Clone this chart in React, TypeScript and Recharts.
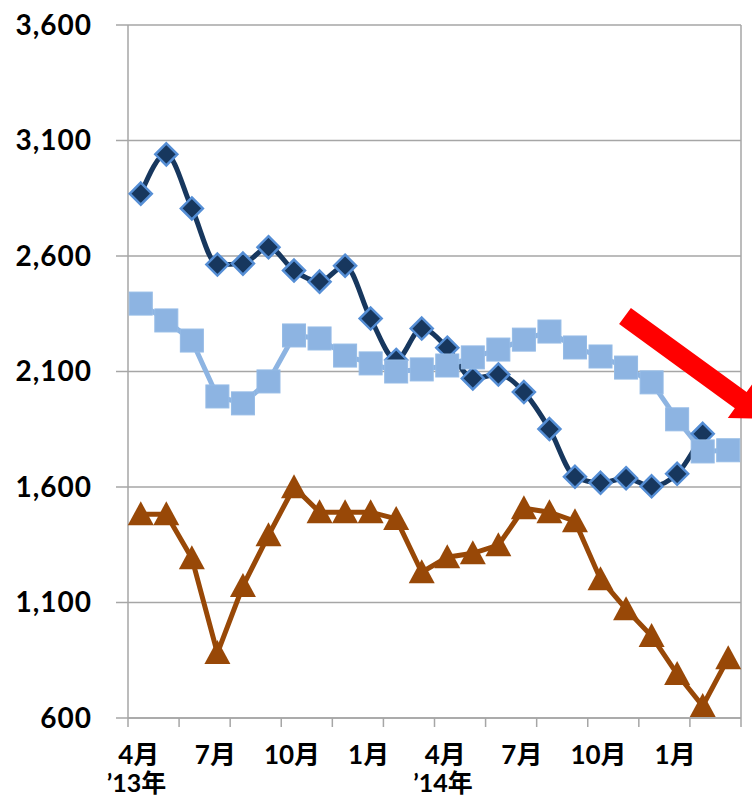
import React from "react";
import { CartesianGrid, Line, LineChart, XAxis, YAxis } from "recharts";

const months = [
  "4月", "5月", "6月", "7月", "8月", "9月", "10月", "11月", "12月", "1月", "2月", "3月",
  "4月", "5月", "6月", "7月", "8月", "9月", "10月", "11月", "12月", "1月", "2月", "3月",
];

// dark navy (diamonds) – no value for the last month
const navy = [
  2870, 3040, 2806, 2563, 2567, 2638, 2537, 2489, 2558, 2329, 2150, 2286,
  2203, 2070, 2087, 2011, 1851, 1644, 1618, 1638, 1603, 1657, 1830, null,
];

// light blue (squares)
const lightBlue = [
  2394, 2321, 2234, 1992, 1962, 2057, 2256, 2243, 2169, 2135, 2100, 2109,
  2126, 2161, 2195, 2238, 2273, 2204, 2165, 2117, 2053, 1893, 1754, 1759,
];

// brown (triangles)
const brown = [
  1482, 1482, 1292, 881, 1171, 1391, 1599, 1491, 1491, 1491, 1462, 1231,
  1296, 1313, 1348, 1508, 1491, 1452, 1201, 1071, 955, 790, 652, 859,
];

const yTicks = [600, 1100, 1600, 2100, 2600, 3100, 3600];
const yearLabels: Record<number, string> = { 0: "’13年", 12: "’14年" };

const FONT = "Lato, 'Noto Sans CJK JP', sans-serif";
const GRID = "#A6A6A6";

const data = months.map((m, i) => ({
  x: i + 0.5,
  month: m,
  navy: navy[i],
  lightBlue: lightBlue[i],
  brown: brown[i],
}));

// tick marks every 2 months, labels every 3 months
const markTicks = months.map((_, i) => i).filter((i) => i % 2 === 0).concat([months.length]);
const labelTicks = months.map((_, i) => i).filter((i) => i % 3 === 0).map((i) => i + 0.5);
const xTicks = [...markTicks, ...labelTicks].sort((a, b) => a - b);

function MonthTick({ x, y, payload }: any) {
  const v = payload.value as number;
  if (Number.isInteger(v)) {
    return <line x1={x} y1={y} x2={x} y2={y + 9} stroke={GRID} strokeWidth={1.5} />;
  }
  const idx = Math.floor(v);
  const year = yearLabels[idx];
  return (
    <g>
      <text x={x - 2} y={y + 46} textAnchor="middle" fontFamily={FONT} fontWeight={700} fontSize={26} fill="#000">
        {months[idx]}
      </text>
      {year && (
        <text x={x - 34} y={y + 74} textAnchor="start" fontFamily={FONT} fontWeight={700} fontSize={25} fill="#000">
          {year}
        </text>
      )}
    </g>
  );
}

function Diamond({ cx, cy, index }: any) {
  if (cx == null || cy == null) return <g key={`d${index}`} />;
  const r = 11;
  return (
    <polygon
      key={`d${index}`}
      points={`${cx},${cy - r} ${cx + r},${cy} ${cx},${cy + r} ${cx - r},${cy}`}
      fill="#17375E"
      stroke="#558ED5"
      strokeWidth={2.5}
    />
  );
}

function Square({ cx, cy, index }: any) {
  if (cx == null || cy == null) return <g key={`s${index}`} />;
  const h = 11.5;
  return <rect key={`s${index}`} x={cx - h} y={cy - h} width={h * 2} height={h * 2} fill="#8DB4E2" stroke="#95BBE6" strokeWidth={1} />;
}

function Triangle({ cx, cy, index }: any) {
  if (cx == null || cy == null) return <g key={`t${index}`} />;
  return (
    <polygon
      key={`t${index}`}
      points={`${cx},${cy - 13} ${cx + 13},${cy + 11} ${cx - 13},${cy + 11}`}
      fill="#984807"
    />
  );
}

export default function App() {
  return (
    <div style={{ position: "relative", width: 752, height: 800, overflow: "hidden", background: "#fff" }}>
      <style>{"body{margin:0}"}</style>
      <LineChart width={752} height={800} data={data} margin={{ top: 25, right: 0, bottom: 0, left: 0 }}>
        <CartesianGrid vertical={false} stroke={GRID} strokeWidth={1.5} />
        <XAxis
          dataKey="x"
          type="number"
          domain={[0, months.length]}
          ticks={xTicks}
          interval={0}
          tick={<MonthTick />}
          tickLine={false}
          tickSize={0}
          tickMargin={0}
          axisLine={{ stroke: GRID, strokeWidth: 1.5 }}
          height={82}
        />
        <YAxis
          domain={[600, 3600]}
          ticks={yTicks}
          interval={0}
          width={128}
          tickSize={12}
          tickMargin={24}
          tickLine={{ stroke: GRID, strokeWidth: 1.5 }}
          axisLine={{ stroke: GRID, strokeWidth: 1.5 }}
          tickFormatter={(v: number) => v.toLocaleString("en-US")}
          tick={{ fontFamily: FONT, fontWeight: 700, fontSize: 28, fill: "#000", letterSpacing: 1 }}
        />
        <YAxis
          yAxisId="r"
          orientation="right"
          domain={[600, 3600]}
          width={11}
          tick={false}
          tickLine={false}
          axisLine={{ stroke: GRID, strokeWidth: 1.5 }}
        />
        <Line
          dataKey="brown"
          stroke="#984807"
          strokeWidth={5}
          dot={(p: any) => <Triangle {...p} />}
          isAnimationActive={false}
        />
        <Line
          dataKey="navy"
          type="monotone"
          stroke="#17375E"
          strokeWidth={5}
          connectNulls={false}
          dot={(p: any) => <Diamond {...p} />}
          isAnimationActive={false}
        />
        <Line
          dataKey="lightBlue"
          stroke="#8DB4E2"
          strokeWidth={5}
          dot={(p: any) => <Square {...p} />}
          isAnimationActive={false}
        />
      </LineChart>
      <svg width={752} height={800} style={{ position: "absolute", left: 0, top: 0, pointerEvents: "none" }}>
        <polygon
          points="630.9,307.9 746.6,392 753.6,382.3 766.6,418.9 727.8,417.9 734.8,408.2 619.1,324.1"
          fill="#FF0000"
        />
      </svg>
    </div>
  );
}
